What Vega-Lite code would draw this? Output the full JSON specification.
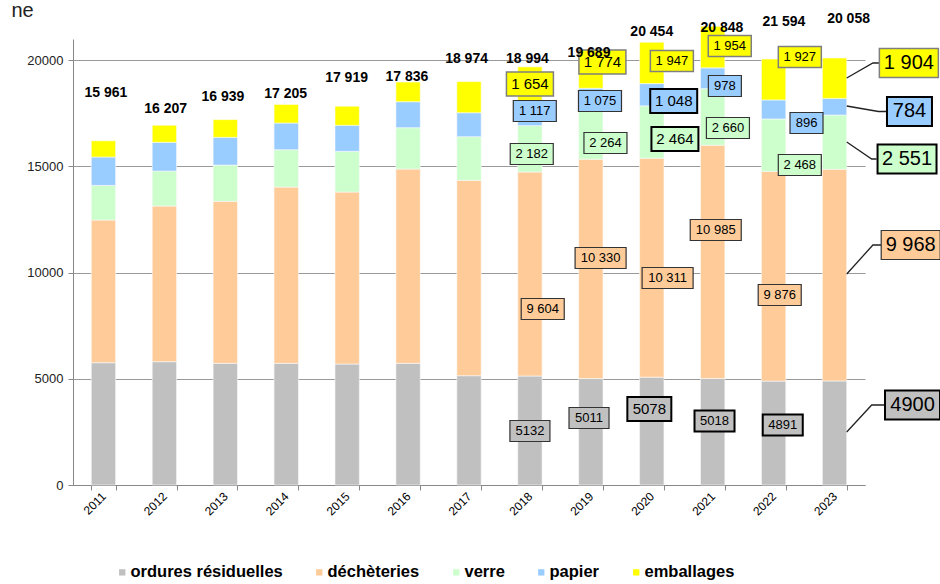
{
  "$schema": "https://vega.github.io/schema/vega-lite/v6.json",
  "width": 792,
  "height": 446,
  "autosize": {"type": "none"},
  "padding": {"left": 73, "top": 39, "right": 75, "bottom": 99},
  "background": "white",
  "config": {
    "view": {"stroke": null},
    "font": "Liberation Sans",
    "axis": {"labelFont": "Liberation Sans", "titleFont": "Liberation Sans"}
  },
  "datasets": {
    "bars": [
      {"year": 2011, "series": "ordures résiduelles", "k": 1, "value": 5758},
      {"year": 2011, "series": "déchèteries", "k": 2, "value": 6718},
      {"year": 2011, "series": "verre", "k": 3, "value": 1634},
      {"year": 2011, "series": "papier", "k": 4, "value": 1332},
      {"year": 2011, "series": "emballages", "k": 5, "value": 765},
      {"year": 2012, "series": "ordures résiduelles", "k": 1, "value": 5805},
      {"year": 2012, "series": "déchèteries", "k": 2, "value": 7330},
      {"year": 2012, "series": "verre", "k": 3, "value": 1648},
      {"year": 2012, "series": "papier", "k": 4, "value": 1351},
      {"year": 2012, "series": "emballages", "k": 5, "value": 805},
      {"year": 2013, "series": "ordures résiduelles", "k": 1, "value": 5729},
      {"year": 2013, "series": "déchèteries", "k": 2, "value": 7628},
      {"year": 2013, "series": "verre", "k": 3, "value": 1709},
      {"year": 2013, "series": "papier", "k": 4, "value": 1304},
      {"year": 2013, "series": "emballages", "k": 5, "value": 835},
      {"year": 2014, "series": "ordures résiduelles", "k": 1, "value": 5729},
      {"year": 2014, "series": "déchèteries", "k": 2, "value": 8301},
      {"year": 2014, "series": "verre", "k": 3, "value": 1756},
      {"year": 2014, "series": "papier", "k": 4, "value": 1257},
      {"year": 2014, "series": "emballages", "k": 5, "value": 876},
      {"year": 2015, "series": "ordures résiduelles", "k": 1, "value": 5697},
      {"year": 2015, "series": "déchèteries", "k": 2, "value": 8097},
      {"year": 2015, "series": "verre", "k": 3, "value": 1916},
      {"year": 2015, "series": "papier", "k": 4, "value": 1225},
      {"year": 2015, "series": "emballages", "k": 5, "value": 901},
      {"year": 2016, "series": "ordures résiduelles", "k": 1, "value": 5729},
      {"year": 2016, "series": "déchèteries", "k": 2, "value": 9148},
      {"year": 2016, "series": "verre", "k": 3, "value": 1945},
      {"year": 2016, "series": "papier", "k": 4, "value": 1224},
      {"year": 2016, "series": "emballages", "k": 5, "value": 928},
      {"year": 2017, "series": "ordures résiduelles", "k": 1, "value": 5146},
      {"year": 2017, "series": "déchèteries", "k": 2, "value": 9199},
      {"year": 2017, "series": "verre", "k": 3, "value": 2053},
      {"year": 2017, "series": "papier", "k": 4, "value": 1130},
      {"year": 2017, "series": "emballages", "k": 5, "value": 1466},
      {"year": 2018, "series": "ordures résiduelles", "k": 1, "value": 5132},
      {"year": 2018, "series": "déchèteries", "k": 2, "value": 9604},
      {"year": 2018, "series": "verre", "k": 3, "value": 2182},
      {"year": 2018, "series": "papier", "k": 4, "value": 1117},
      {"year": 2018, "series": "emballages", "k": 5, "value": 1654},
      {"year": 2019, "series": "ordures résiduelles", "k": 1, "value": 5011},
      {"year": 2019, "series": "déchèteries", "k": 2, "value": 10330},
      {"year": 2019, "series": "verre", "k": 3, "value": 2264},
      {"year": 2019, "series": "papier", "k": 4, "value": 1075},
      {"year": 2019, "series": "emballages", "k": 5, "value": 1774},
      {"year": 2020, "series": "ordures résiduelles", "k": 1, "value": 5078},
      {"year": 2020, "series": "déchèteries", "k": 2, "value": 10311},
      {"year": 2020, "series": "verre", "k": 3, "value": 2464},
      {"year": 2020, "series": "papier", "k": 4, "value": 1048},
      {"year": 2020, "series": "emballages", "k": 5, "value": 1947},
      {"year": 2021, "series": "ordures résiduelles", "k": 1, "value": 5018},
      {"year": 2021, "series": "déchèteries", "k": 2, "value": 10985},
      {"year": 2021, "series": "verre", "k": 3, "value": 2660},
      {"year": 2021, "series": "papier", "k": 4, "value": 978},
      {"year": 2021, "series": "emballages", "k": 5, "value": 1954},
      {"year": 2022, "series": "ordures résiduelles", "k": 1, "value": 4891},
      {"year": 2022, "series": "déchèteries", "k": 2, "value": 9876},
      {"year": 2022, "series": "verre", "k": 3, "value": 2468},
      {"year": 2022, "series": "papier", "k": 4, "value": 896},
      {"year": 2022, "series": "emballages", "k": 5, "value": 1927},
      {"year": 2023, "series": "ordures résiduelles", "k": 1, "value": 4900},
      {"year": 2023, "series": "déchèteries", "k": 2, "value": 9968},
      {"year": 2023, "series": "verre", "k": 3, "value": 2551},
      {"year": 2023, "series": "papier", "k": 4, "value": 784},
      {"year": 2023, "series": "emballages", "k": 5, "value": 1904}
    ],
    "labels": [
      {"year": 2018, "series": "emballages", "t": "1 654", "lx": 2018.0, "ly": 18881},
      {"year": 2018, "series": "papier", "t": "1 117", "lx": 2018.08, "ly": 17610},
      {"year": 2018, "series": "verre", "t": "2 182", "lx": 2018.03, "ly": 15585},
      {"year": 2018, "series": "déchèteries", "t": "9 604", "lx": 2018.21, "ly": 8287},
      {"year": 2018, "series": "ordures résiduelles", "t": "5132", "lx": 2018.0, "ly": 2543},
      {"year": 2019, "series": "emballages", "t": "1 774", "lx": 2019.19, "ly": 19917},
      {"year": 2019, "series": "papier", "t": "1 075", "lx": 2019.15, "ly": 18081},
      {"year": 2019, "series": "verre", "t": "2 264", "lx": 2019.24, "ly": 16103},
      {"year": 2019, "series": "déchèteries", "t": "10 330", "lx": 2019.16, "ly": 10688},
      {"year": 2019, "series": "ordures résiduelles", "t": "5011", "lx": 2018.97, "ly": 3155},
      {"year": 2020, "series": "emballages", "t": "1 947", "lx": 2020.33, "ly": 19964},
      {"year": 2020, "series": "papier", "t": "1 048", "lx": 2020.36, "ly": 18081},
      {"year": 2020, "series": "verre", "t": "2 464", "lx": 2020.38, "ly": 16291},
      {"year": 2020, "series": "déchèteries", "t": "10 311", "lx": 2020.26, "ly": 9747},
      {"year": 2020, "series": "ordures résiduelles", "t": "5078", "lx": 2019.96, "ly": 3578},
      {"year": 2021, "series": "emballages", "t": "1 954", "lx": 2021.28, "ly": 20670},
      {"year": 2021, "series": "papier", "t": "978", "lx": 2021.2, "ly": 18787},
      {"year": 2021, "series": "verre", "t": "2 660", "lx": 2021.25, "ly": 16810},
      {"year": 2021, "series": "déchèteries", "t": "10 985", "lx": 2021.05, "ly": 12007},
      {"year": 2021, "series": "ordures résiduelles", "t": "5018", "lx": 2021.03, "ly": 3013},
      {"year": 2022, "series": "emballages", "t": "1 927", "lx": 2022.43, "ly": 20152},
      {"year": 2022, "series": "papier", "t": "896", "lx": 2022.54, "ly": 17045},
      {"year": 2022, "series": "verre", "t": "2 468", "lx": 2022.43, "ly": 15067},
      {"year": 2022, "series": "déchèteries", "t": "9 876", "lx": 2022.1, "ly": 8946},
      {"year": 2022, "series": "ordures résiduelles", "t": "4891", "lx": 2022.15, "ly": 2825},
      {"year": 2023, "series": "emballages", "t": "1 904", "lx": 2024.22, "ly": 19870},
      {"year": 2023, "series": "papier", "t": "784", "lx": 2024.23, "ly": 17587},
      {"year": 2023, "series": "verre", "t": "2 551", "lx": 2024.19, "ly": 15350},
      {"year": 2023, "series": "déchèteries", "t": "9 968", "lx": 2024.25, "ly": 11300},
      {"year": 2023, "series": "ordures résiduelles", "t": "4900", "lx": 2024.28, "ly": 3767}
    ],
    "totals": [
      {"year": 2011, "t": "15 961", "lx": 2011.04, "ly": 18457},
      {"year": 2012, "t": "16 207", "lx": 2012.02, "ly": 17704},
      {"year": 2013, "t": "16 939", "lx": 2012.96, "ly": 18269},
      {"year": 2014, "t": "17 205", "lx": 2013.99, "ly": 18410},
      {"year": 2015, "t": "17 919", "lx": 2014.99, "ly": 19164},
      {"year": 2016, "t": "17 836", "lx": 2015.98, "ly": 19211},
      {"year": 2017, "t": "18 974", "lx": 2016.96, "ly": 20058},
      {"year": 2018, "t": "18 994", "lx": 2017.96, "ly": 20058},
      {"year": 2019, "t": "19 689", "lx": 2018.97, "ly": 20341},
      {"year": 2020, "t": "20 454", "lx": 2020.0, "ly": 21330},
      {"year": 2021, "t": "20 848", "lx": 2021.15, "ly": 21518},
      {"year": 2022, "t": "21 594", "lx": 2022.17, "ly": 21800},
      {"year": 2023, "t": "20 058", "lx": 2023.23, "ly": 21942}
    ],
    "leaders": [
      {"series": "emballages", "step": 1, "lx": 2023.2, "ly": 19164},
      {"series": "emballages", "step": 2, "lx": 2023.63, "ly": 19870},
      {"series": "emballages", "step": 3, "lx": 2023.74, "ly": 19870},
      {"series": "papier", "step": 1, "lx": 2023.2, "ly": 17845},
      {"series": "papier", "step": 2, "lx": 2023.72, "ly": 17587},
      {"series": "papier", "step": 3, "lx": 2023.87, "ly": 17587},
      {"series": "verre", "step": 1, "lx": 2023.2, "ly": 16150},
      {"series": "verre", "step": 2, "lx": 2023.61, "ly": 15350},
      {"series": "verre", "step": 3, "lx": 2023.69, "ly": 15350},
      {"series": "déchèteries", "step": 1, "lx": 2023.2, "ly": 9935},
      {"series": "déchèteries", "step": 2, "lx": 2023.63, "ly": 11300},
      {"series": "déchèteries", "step": 3, "lx": 2023.77, "ly": 11300},
      {"series": "ordures résiduelles", "step": 1, "lx": 2023.2, "ly": 2496},
      {"series": "ordures résiduelles", "step": 2, "lx": 2023.61, "ly": 3767},
      {"series": "ordures résiduelles", "step": 3, "lx": 2023.84, "ly": 3767}
    ]
  },
  "layer": [
    {
      "data": {"name": "bars"},
      "mark": {"type": "bar", "stroke": "#fafafa", "strokeWidth": 0.6},
      "encoding": {
        "x": {
          "field": "year", "type": "ordinal",
          "scale": {"paddingInner": 0.6, "paddingOuter": 0.3},
          "axis": {
            "title": null, "labelAngle": -45, "labelAlign": "right", "labelBaseline": "middle",
            "labelFontSize": 12, "labelColor": "#000", "labelPadding": 4,
            "tickBand": "extent", "tickSize": 5, "tickColor": "#888", "domainColor": "#888", "grid": false
          }
        },
        "y": {
          "field": "value", "type": "quantitative", "stack": "zero",
          "scale": {"domain": [0, 21000], "nice": false, "zero": true},
          "axis": {
            "values": [0, 5000, 10000, 15000, 20000], "format": "d",
            "title": "ne", "titleAngle": 0, "titleX": -62, "titleY": -23, "titleAlign": "left",
            "titleBaseline": "alphabetic", "titleFontSize": 20, "titleFontWeight": "normal", "titleColor": "#222",
            "labelFontSize": 13, "labelColor": "#222", "labelPadding": 5,
            "grid": true, "gridColor": "#999", "gridWidth": 1,
            "tickSize": 5, "tickColor": "#888", "domainColor": "#888"
          }
        },
        "color": {
          "field": "series", "type": "nominal",
          "sort": ["ordures résiduelles", "déchèteries", "verre", "papier", "emballages"],
          "scale": {
            "domain": ["ordures résiduelles", "déchèteries", "verre", "papier", "emballages"],
            "range": ["#C0C0C0", "#FFCC99", "#CCFFCC", "#99CCFF", "#FFFF00"]
          },
          "legend": {
            "orient": "none", "legendX": 41, "legendY": 525, "direction": "horizontal", "title": null,
            "symbolType": "square", "symbolSize": 40, "symbolStrokeWidth": 0, "symbolOpacity": 1,
            "labelFontSize": 16.5, "labelFontWeight": "bold", "labelColor": "#000", "labelFont": "Liberation Sans",
            "labelOffset": 0, "columnPadding": 28, "padding": 0
          }
        },
        "order": {"field": "k", "type": "quantitative", "sort": "ascending"}
      }
    },
    {
      "data": {"name": "leaders"},
      "mark": {"type": "line", "color": "#222", "strokeWidth": 1.3},
      "encoding": {
        "x": {"field": "lx", "type": "quantitative", "scale": {"domain": [2010.5, 2023.5], "nice": false, "zero": false}, "axis": null},
        "y": {"field": "ly", "type": "quantitative", "scale": {"domain": [0, 21000], "nice": false, "zero": false}, "axis": null},
        "detail": {"field": "series"},
        "order": {"field": "step", "type": "quantitative"}
      }
    },
    {
      "data": {"name": "labels"},
      "mark": {"type": "point", "filled": true, "opacity": 1, "size": 3600},
      "encoding": {
        "x": {"field": "lx", "type": "quantitative", "scale": {"domain": [2010.5, 2023.5], "nice": false, "zero": false}, "axis": null},
        "y": {"field": "ly", "type": "quantitative", "scale": {"domain": [0, 21000], "nice": false, "zero": false}, "axis": null},
        "fill": {
          "field": "series", "type": "nominal",
          "scale": {
            "domain": ["ordures résiduelles", "déchèteries", "verre", "papier", "emballages"],
            "range": ["#C0C0C0", "#FFCC99", "#CCFFCC", "#99CCFF", "#FFFF00"]
          },
          "legend": null
        },
        "shape": {
          "condition": [
            {"test": "datum.year == 2023 && length(datum.t) == 3", "value": "M-0.75,-0.483H0.75V0.483H-0.75Z"},
            {"test": "datum.year == 2023 && length(datum.t) == 4", "value": "M-0.917,-0.483H0.917V0.483H-0.917Z"},
            {"test": "datum.year == 2023", "value": "M-0.983,-0.483H0.983V0.483H-0.983Z"},
            {"test": "((datum.series == 'emballages' && (datum.year == 2018 || datum.year == 2019)) || (datum.year == 2020 && (datum.series == 'papier' || datum.series == 'verre' || datum.series == 'ordures résiduelles'))) && length(datum.t) == 4", "value": "M-0.733,-0.4H0.733V0.4H-0.733Z"},
            {"test": "(datum.series == 'emballages' && (datum.year == 2018 || datum.year == 2019)) || (datum.year == 2020 && (datum.series == 'papier' || datum.series == 'verre' || datum.series == 'ordures résiduelles'))", "value": "M-0.783,-0.4H0.783V0.4H-0.783Z"},
            {"test": "length(datum.t) == 3", "value": "M-0.55,-0.35H0.55V0.35H-0.55Z"},
            {"test": "length(datum.t) == 4", "value": "M-0.667,-0.35H0.667V0.35H-0.667Z"},
            {"test": "length(datum.t) == 6", "value": "M-0.85,-0.35H0.85V0.35H-0.85Z"}
          ],
          "value": "M-0.717,-0.35H0.717V0.35H-0.717Z"
        },
        "stroke": {
          "condition": [
            {"test": "(datum.year == 2020 && (datum.series == 'papier' || datum.series == 'verre' || datum.series == 'ordures résiduelles')) || (datum.year >= 2021 && datum.series == 'ordures résiduelles') || (datum.year == 2023 && (datum.series == 'papier' || datum.series == 'verre'))", "value": "#000"},
            {"test": "datum.series == 'emballages'", "value": "#7F7F7F"}
          ],
          "value": "#333"
        },
        "strokeWidth": {
          "condition": [
            {"test": "(datum.year == 2020 && (datum.series == 'papier' || datum.series == 'verre' || datum.series == 'ordures résiduelles')) || (datum.year >= 2021 && datum.series == 'ordures résiduelles') || (datum.year == 2023 && (datum.series == 'papier' || datum.series == 'verre'))", "value": 2},
            {"test": "datum.series == 'emballages'", "value": 1.5}
          ],
          "value": 1.2
        }
      }
    },
    {
      "data": {"name": "labels"},
      "mark": {"type": "text", "font": "Liberation Sans", "color": "#000", "align": "center", "baseline": "middle"},
      "encoding": {
        "x": {"field": "lx", "type": "quantitative", "scale": {"domain": [2010.5, 2023.5], "nice": false, "zero": false}, "axis": null},
        "y": {"field": "ly", "type": "quantitative", "scale": {"domain": [0, 21000], "nice": false, "zero": false}, "axis": null},
        "text": {"field": "t", "type": "nominal"},
        "size": {
          "condition": [
            {"test": "datum.year == 2023", "value": 20},
            {"test": "(datum.series == 'emballages' && (datum.year == 2018 || datum.year == 2019)) || (datum.year == 2020 && (datum.series == 'papier' || datum.series == 'verre' || datum.series == 'ordures résiduelles'))", "value": 15}
          ],
          "value": 13
        }
      }
    },
    {
      "data": {"name": "totals"},
      "mark": {"type": "text", "font": "Liberation Sans", "fontWeight": "bold", "fontSize": 14, "color": "#000", "align": "center", "baseline": "middle"},
      "encoding": {
        "x": {"field": "lx", "type": "quantitative", "scale": {"domain": [2010.5, 2023.5], "nice": false, "zero": false}, "axis": null},
        "y": {"field": "ly", "type": "quantitative", "scale": {"domain": [0, 21000], "nice": false, "zero": false}, "axis": null},
        "text": {"field": "t", "type": "nominal"}
      }
    }
  ],
  "resolve": {"scale": {"x": "independent", "y": "independent"}}
}
